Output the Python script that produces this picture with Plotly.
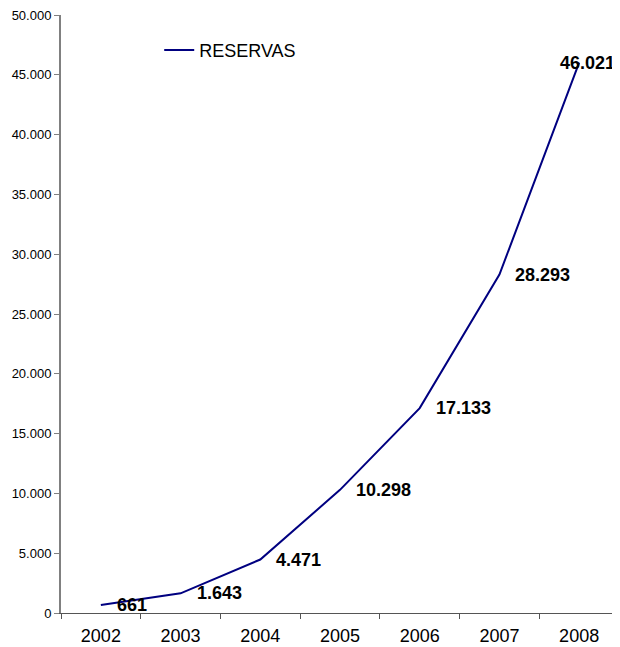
import plotly.graph_objects as go

years = ["2002", "2003", "2004", "2005", "2006", "2007", "2008"]
reservas = [661, 1643, 4471, 10298, 17133, 28293, 46021]
y_ticks = [0, 5000, 10000, 15000, 20000, 25000, 30000, 35000, 40000, 45000, 50000]

def fmt(v):
    return f"{v:,}".replace(",", ".")

fig = go.Figure()
fig.add_trace(go.Scatter(
    x=years, y=reservas, mode="lines", name="RESERVAS",
    line=dict(color="#000080", width=2),
))

for i, (yr, v) in enumerate(zip(years, reservas)):
    last = i == len(years) - 1
    fig.add_annotation(
        x=i, y=v, xref="x", yref="y", text="<b>" + fmt(v) + "</b>", showarrow=False,
        xanchor="right" if last else "left",
        xshift=38 if last else 14,
        font=dict(family="Liberation Sans, Arial", size=18, color="black"),
    )

# the page adds an 8px body margin, so the figure is sized to fit the window
fig.update_layout(
    width=612, height=639,
    margin=dict(l=53, r=1, t=7, b=34, autoexpand=False),
    paper_bgcolor="white", plot_bgcolor="white",
    font=dict(family="Liberation Sans, Arial", color="black"),
    showlegend=True,
    legend=dict(x=0.176, y=0.972, xanchor="left", yanchor="top",
                bgcolor="rgba(0,0,0,0)", font=dict(size=18)),
    xaxis=dict(
        type="category", range=[-0.5, 6.5], tickson="boundaries",
        ticks="outside", ticklen=5, tickcolor="#555555", automargin=False,
        showline=True, linecolor="#555555", linewidth=1, ticklabelstandoff=6,
        showgrid=False, tickfont=dict(size=18), zeroline=False,
    ),
    yaxis=dict(
        range=[0, 50000], tickvals=y_ticks, ticktext=[fmt(t) for t in y_ticks],
        ticks="outside", ticklen=5, tickcolor="#808080", automargin=False,
        ticklabeloverflow="allow",
        showline=True, linecolor="#808080", linewidth=2,
        showgrid=False, zeroline=False, tickfont=dict(size=13),
    ),
)

fig.write_html("out.html")
